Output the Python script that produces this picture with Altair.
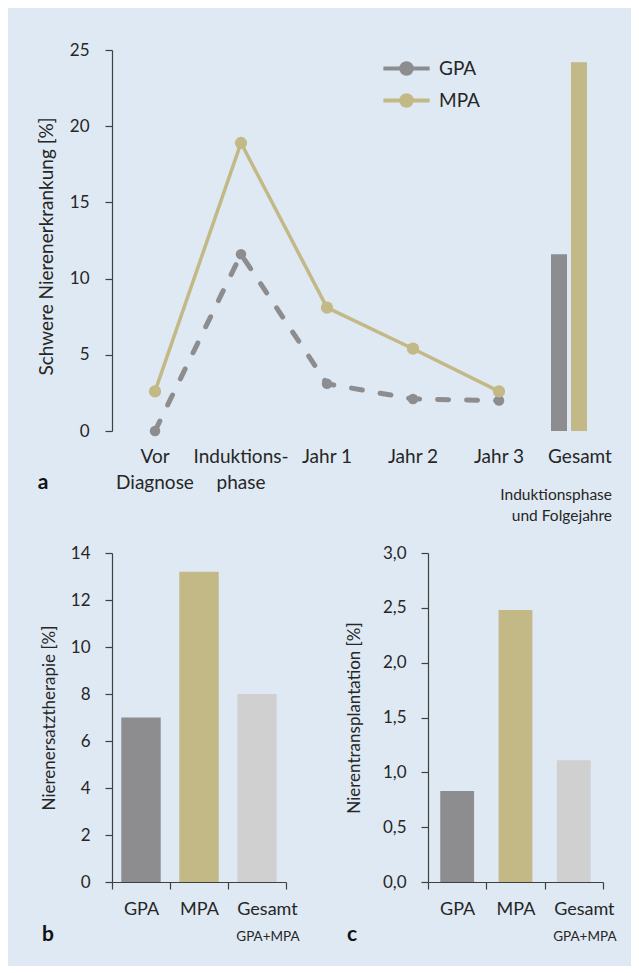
import altair as alt
import pandas as pd

# ---------------- data ----------------
periods = ["Vor\nDiagnose", "Induktions-\nphase", "Jahr 1", "Jahr 2", "Jahr 3", "Gesamt"]
course_periods = periods[:5]
series = ["GPA", "MPA"]
gpa_course = [0.0, 11.6, 3.1, 2.1, 2.0]
mpa_course = [2.6, 18.9, 8.1, 5.4, 2.6]
total_values = [11.6, 24.2]          # Gesamt (Induktionsphase und Folgejahre)

groups = ["GPA", "MPA", "Gesamt"]
rrt_values = [7.0, 13.2, 8.0]        # Nierenersatztherapie [%]
ntx_values = [0.83, 2.48, 1.11]      # Nierentransplantation [%]

GREY = "#8d8d8f"
TAN = "#c2b987"
LIGHT = "#d0d0d0"
TEXT = "#262626"
AXIS = "#404040"
BG = "#dfe9f3"
FONT = "Lato"

course_df = pd.DataFrame({
    "period": course_periods * 2,
    "series": ["GPA"] * 5 + ["MPA"] * 5,
    "value": gpa_course + mpa_course,
})
total_df = pd.DataFrame({"period": ["Gesamt"] * 2, "series": series, "value": total_values})
note_df = pd.DataFrame({"period": ["Gesamt"], "note": ["Induktionsphase\nund Folgejahre"]})

# ---------------- panel a ----------------
W_A, H_A = 516, 381
x_a = alt.X(
    "period:N", sort=periods,
    scale=alt.Scale(domain=periods, paddingInner=0, paddingOuter=0),
    axis=alt.Axis(title=None, domain=False, ticks=False, labelAngle=0,
                  labelExpr="split(datum.label, '\\n')", labelPadding=16,
                  labelFontSize=19, labelLineHeight=26, labelColor=TEXT,
                  labelOffset=alt.condition("datum.value == 'Gesamt'", alt.value(-5), alt.value(0))),
)
y_a = alt.Y(
    "value:Q", scale=alt.Scale(domain=[0, 25], nice=False),
    axis=alt.Axis(title="Schwere Nierenerkrankung [%]", values=[0, 5, 10, 15, 20, 25],
                  grid=False, tickSize=7, labelPadding=16, titlePadding=13, titleFontSize=19,
                  titleY=196),
)
color_scale = alt.Scale(domain=series, range=[GREY, TAN])
legend_path = "M-1.85,0L1.85,0M-0.42,0A0.42,0.42,0,1,1,0.42,0A0.42,0.42,0,1,1,-0.42,0Z"
leg = alt.Legend(title=None, orient="none", legendX=280, legendY=4,
                 symbolType=legend_path, symbolSize=625, symbolStrokeWidth=4,
                 labelFontSize=19, labelColor=TEXT, labelOffset=18, rowPadding=4)

base_line = alt.Chart(course_df).encode(
    x=x_a, y=y_a,
    color=alt.Color("series:N", scale=color_scale, legend=leg),
)
line_gpa = base_line.transform_filter("datum.series == 'GPA'").mark_line(
    strokeCap="round", strokeWidth=5, strokeDash=[11, 18])
line_mpa = base_line.transform_filter("datum.series == 'MPA'").mark_line(
    strokeCap="round", strokeWidth=3.5)
points = base_line.mark_point(filled=True, opacity=1).encode(
    size=alt.Size("series:N", scale=alt.Scale(domain=series, range=[110, 150]), legend=None),
)
bars_a = alt.Chart(total_df).mark_bar().encode(
    x=x_a, y=y_a,
    xOffset=alt.XOffset("series:N", scale=alt.Scale(domain=series, range=[9, 45], paddingInner=0.2, paddingOuter=0)),
    color=alt.Color("series:N", scale=color_scale, legend=leg),
)
note_a = alt.Chart(note_df).mark_text(align="right", baseline="top", dx=27, fontSize=15.5,
                                      lineBreak="\n", lineHeight=21, color=TEXT, font=FONT).encode(
    x=x_a, y=alt.value(H_A + 57), text="note:N")
letter_a = alt.Chart(pd.DataFrame({"t": ["a"]})).mark_text(
    fontSize=21, fontWeight="bold", color="#111", font=FONT, align="center", baseline="middle").encode(
    x=alt.value(-69), y=alt.value(433), text="t:N")

panel_a = alt.layer(line_gpa, line_mpa, points, bars_a, note_a, letter_a).properties(width=W_A, height=H_A)


# ---------------- panels b, c ----------------
def bar_panel(values, ymax, step, title, letter, letter_x, fmt, title_pad, bw, width):
    df = pd.DataFrame({"group": groups, "value": values})
    x = alt.X("group:N", sort=groups,
              scale=alt.Scale(domain=groups, paddingInner=0, paddingOuter=0),
              axis=alt.Axis(title=None, labelAngle=0, tickBand="extent", tickSize=7,
                            labelPadding=11, labelFontSize=18, labelColor=TEXT,
                            labelOffset=alt.condition("datum.value == 'Gesamt'", alt.value(10), alt.value(0))))
    ticks = [round(i * step, 2) for i in range(int(round(ymax / step)) + 1)]
    y = alt.Y("value:Q", scale=alt.Scale(domain=[0, ymax], nice=False),
              axis=alt.Axis(title=title, values=ticks, grid=False, tickSize=7, labelPadding=15,
                            titlePadding=title_pad, format=fmt,
                            labelExpr="replace(datum.label, '.', ',')"))
    bars = alt.Chart(df).mark_bar(width=alt.RelativeBandSize(bw)).encode(
        x=x, y=y,
        color=alt.Color("group:N", scale=alt.Scale(domain=groups, range=[GREY, TAN, LIGHT]), legend=None),
    )
    note = alt.Chart(pd.DataFrame({"group": ["Gesamt"], "note": ["GPA+MPA"]})).mark_text(
        fontSize=13.5, color=TEXT, font=FONT, baseline="middle", dx=11).encode(
        x=x, y=alt.value(384), text="note:N")
    let = alt.Chart(pd.DataFrame({"t": [letter]})).mark_text(
        fontSize=21, fontWeight="bold", color="#111", font=FONT, align="center", baseline="middle").encode(
        x=alt.value(letter_x), y=alt.value(382), text="t:N")
    return alt.layer(bars, note, let).properties(width=width, height=H_B)


W_B, W_C, H_B = 174, 175, 329
panel_b = bar_panel(rrt_values, 14, 2, "Nierenersatztherapie [%]", "b", -64, "d", 12, 0.68, W_B)
panel_c = bar_panel(ntx_values, 3.0, 0.5, "Nierentransplantation [%]", "c", -76, ".1f", 19, 0.58, W_C)

bottom = alt.hconcat(panel_b, panel_c, spacing=142, bounds="flush").resolve_scale(color="independent")

chart = alt.vconcat(panel_a, bottom, spacing=122, bounds="flush").resolve_scale(
    color="independent", x="independent", y="independent"
).properties(
    padding={"left": 29, "top": 33, "right": 3, "bottom": 21},
    background=BG,
).configure(
    font=FONT,
).configure_view(
    stroke=None,
).configure_axis(
    domainColor=AXIS, tickColor=AXIS, domainWidth=1.2, tickWidth=1.2,
    labelFont=FONT, titleFont=FONT, labelFontSize=17, titleFontSize=17,
    labelColor=TEXT, titleColor=TEXT, titleFontWeight="normal",
).configure_legend(
    labelFont=FONT,
)

chart.save("out.html", embed_options={"renderer": "svg", "actions": False})
